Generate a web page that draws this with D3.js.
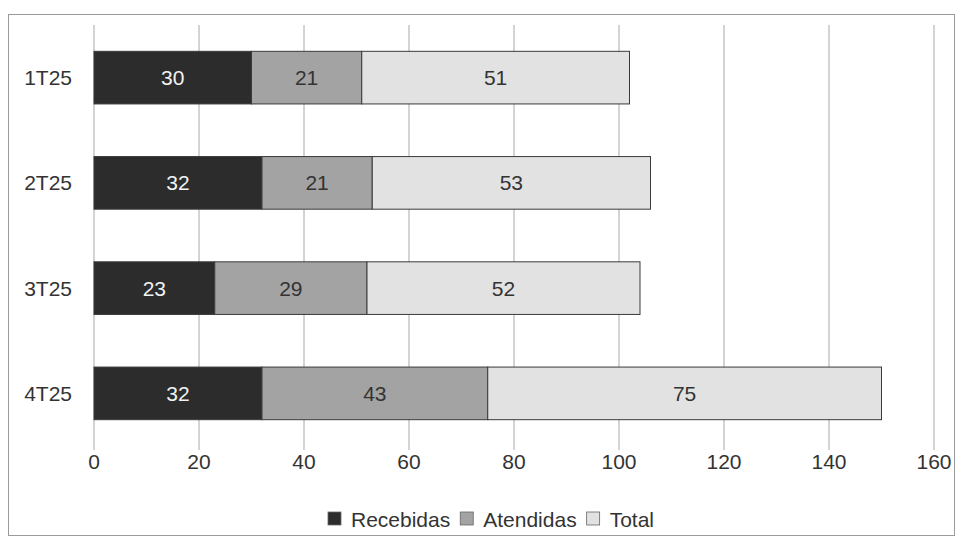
<!DOCTYPE html>
<html>
<head>
<meta charset="utf-8">
<script src="https://cdn.jsdelivr.net/npm/d3@7"></script>
<style>
  body { margin: 0; background: #fff; }
  text { font-family: "Liberation Sans", Arial, sans-serif; }
</style>
</head>
<body>
<div id="container"></div>
<script>
const categories = ["1T25", "2T25", "3T25", "4T25"];
const recebidas = [30, 32, 23, 32];
const atendidas = [21, 21, 29, 43];
const total = [51, 53, 52, 75];
const seriesNames = ["Recebidas", "Atendidas", "Total"];
const xTicks = [0, 20, 40, 60, 80, 100, 120, 140, 160];

const width = 957;
const height = 537;

const colors = ["#2c2c2c", "#a3a3a3", "#e2e2e2"];
const labelColors = ["#f2f2f2", "#333", "#333"];
const fontSize = 21;

// table for the stack
const table = categories.map((c, i) => ({
    cat: c, Recebidas: recebidas[i], Atendidas: atendidas[i], Total: total[i]
}));
const stacked = d3.stack().keys(seriesNames)(table);

const x = d3.scaleLinear().domain([0, 160]).range([94, 934]);
const y = d3.scaleBand().domain(categories).range([25, 446])
    .paddingInner(0.5).paddingOuter(0.25);

const svg = d3.create("svg")
    .attr("width", width)
    .attr("height", height)
    .attr("viewBox", [0, 0, width, height]);

// attach early so text widths can be measured for the legend
d3.select("#container").append(() => svg.node());

// outer frame
svg.append("rect")
    .attr("x", 8.5).attr("y", 14.5)
    .attr("width", 946).attr("height", 521)
    .attr("fill", "none")
    .attr("stroke", "#9a9a9a");

// vertical grid lines
svg.append("g")
    .selectAll("line")
    .data(xTicks)
    .join("line")
    .attr("x1", d => x(d)).attr("x2", d => x(d))
    .attr("y1", 25).attr("y2", 450)
    .attr("stroke", "#a8a8a8")
    .attr("stroke-width", 1);

// x tick labels
svg.append("g")
    .selectAll("text")
    .data(xTicks)
    .join("text")
    .attr("x", d => x(d))
    .attr("y", 469)
    .attr("text-anchor", "middle")
    .attr("font-size", fontSize)
    .attr("fill", "#333")
    .text(d => d);

// category labels
svg.append("g")
    .selectAll("text")
    .data(categories)
    .join("text")
    .attr("x", 72)
    .attr("y", d => y(d) + y.bandwidth() / 2 + 7.5)
    .attr("text-anchor", "end")
    .attr("font-size", fontSize)
    .attr("fill", "#333")
    .text(d => d);

// bars
const groups = svg.append("g")
    .selectAll("g")
    .data(stacked)
    .join("g")
    .attr("fill", (d, i) => colors[i]);

groups.selectAll("rect")
    .data(d => d)
    .join("rect")
    .attr("x", d => x(d[0]))
    .attr("y", d => y(d.data.cat))
    .attr("width", d => x(d[1]) - x(d[0]))
    .attr("height", y.bandwidth())
    .attr("stroke", "#3a3a3a")
    .attr("stroke-width", 1);

// value labels
stacked.forEach((s, si) => {
    svg.append("g")
        .selectAll("text")
        .data(s)
        .join("text")
        .attr("x", d => (x(d[0]) + x(d[1])) / 2)
        .attr("y", d => y(d.data.cat) + y.bandwidth() / 2 + 7.5)
        .attr("text-anchor", "middle")
        .attr("font-size", fontSize)
        .attr("fill", labelColors[si])
        .text(d => d[1] - d[0]);
});

// legend
const legend = svg.append("g");
let lx = 0;
seriesNames.forEach((name, i) => {
    legend.append("rect")
        .attr("x", lx).attr("y", 512)
        .attr("width", 13).attr("height", 13)
        .attr("fill", colors[i])
        .attr("stroke", "#666")
        .attr("stroke-width", 0.8);
    const t = legend.append("text")
        .attr("x", lx + 23).attr("y", 527)
        .attr("font-size", 21)
        .attr("fill", "#333")
        .text(name);
    lx += 23 + t.node().getComputedTextLength() + 10;
});
// centre the legend under the plot
const lw = lx - 10;
legend.attr("transform", `translate(${491 - lw / 2},0)`);
</script>
</body>
</html>
